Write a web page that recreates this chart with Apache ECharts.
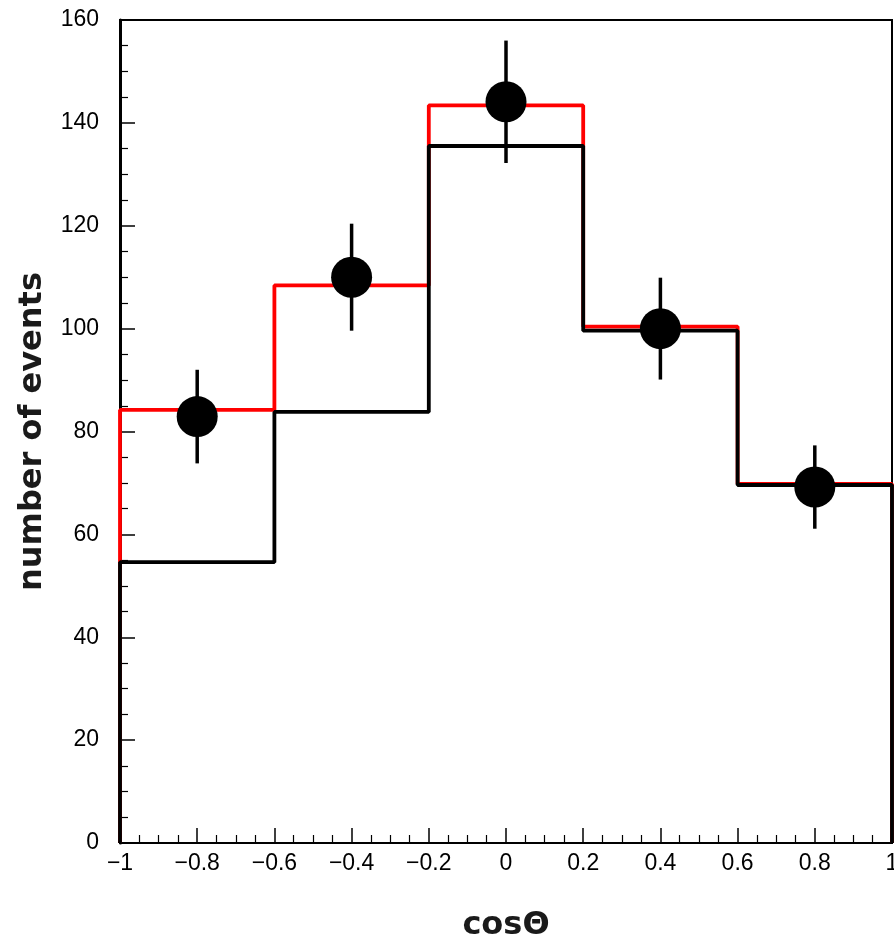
<!DOCTYPE html>
<html>
<head>
<meta charset="utf-8">
<script src="https://cdn.jsdelivr.net/npm/echarts@6/dist/echarts.min.js"></script>
<style>html,body{margin:0;padding:0;background:#fff}#c{width:894px;height:939px}</style>
</head>
<body>
<div id="c"></div>
<script>
var binEdges = [-1, -0.6, -0.2, 0.2, 0.6, 1];
var redHist = [84.2, 108.4, 143.4, 100.4, 69.8];
var blackHist = [54.6, 83.8, 135.5, 99.6, 69.6];
var pointX = [-0.8, -0.4, 0, 0.4, 0.8];
var pointY = [82.9, 110.0, 144.1, 100.0, 69.2];
var pointErr = [9.1, 10.4, 11.9, 9.9, 8.1];
var xTicks = [-1, -0.8, -0.6, -0.4, -0.2, 0, 0.2, 0.4, 0.6, 0.8, 1];
var yTicks = [0, 20, 40, 60, 80, 100, 120, 140, 160];

function histPath(vals) {
  var pts = [[binEdges[0], 0]];
  for (var i = 0; i < vals.length; i++) {
    pts.push([binEdges[i], vals[i]]);
    pts.push([binEdges[i + 1], vals[i]]);
  }
  pts.push([binEdges[binEdges.length - 1], 0]);
  return pts;
}

var errData = pointX.map(function (x, i) { return [x, pointY[i] - pointErr[i], pointY[i] + pointErr[i]]; });
var ptData = pointX.map(function (x, i) { return [x, pointY[i]]; });

var labelFont = "Liberation Sans";
var titleFont = "DejaVu Sans";
var chart = echarts.init(document.getElementById('c'), null, {renderer: 'canvas'});
chart.setOption({
  animation: false,
  backgroundColor: '#fff',
  grid: {left: 120, right: 2, top: 20, bottom: 96, outerBoundsMode: 'none', containLabel: false,
    show: true, borderColor: '#000', borderWidth: 2, backgroundColor: 'transparent'},
  xAxis: {
    type: 'value', min: xTicks[0], max: xTicks[xTicks.length - 1], interval: 0.2,
    name: 'cosΘ', nameLocation: 'middle', nameGap: 67,
    nameTextStyle: {fontFamily: titleFont, fontWeight: 'bold', fontSize: 32, color: '#1a1a1a'},
    axisLine: {show: true, onZero: false, lineStyle: {color: '#000', width: 2}},
    axisTick: {show: true, inside: true, length: 15, lineStyle: {color: '#000', width: 1.5}},
    minorTick: {show: true, splitNumber: 4, length: 8, lineStyle: {color: '#000', width: 1.2}},
    splitLine: {show: false},
    axisLabel: {margin: 9, fontFamily: labelFont, fontSize: 23, color: '#000',
      formatter: function (v) { var s = (Math.round(v * 10) / 10).toString(); return s.replace('-', '\u2212'); }}
  },
  yAxis: {
    type: 'value', min: yTicks[0], max: yTicks[yTicks.length - 1], interval: 20,
    name: 'number of events', nameLocation: 'middle', nameGap: 71, nameRotate: 90,
    nameTextStyle: {fontFamily: titleFont, fontWeight: 'bold', fontSize: 32, color: '#1a1a1a'},
    axisLine: {show: true, onZero: false, lineStyle: {color: '#000', width: 3}},
    axisTick: {show: true, inside: true, length: 15, lineStyle: {color: '#000', width: 1.5}},
    minorTick: {show: true, splitNumber: 4, length: 8, lineStyle: {color: '#000', width: 1.2}},
    splitLine: {show: false},
    axisLabel: {margin: 21, fontFamily: labelFont, fontSize: 23, color: '#000'}
  },
  series: [
    {type: 'line', data: histPath(redHist), symbol: 'none', lineStyle: {color: '#ff0000', width: 3.8}, z: 2, silent: true},
    {type: 'line', data: histPath(blackHist), symbol: 'none', lineStyle: {color: '#000', width: 3.8}, z: 3, silent: true},
    {type: 'custom', data: errData, z: 5, silent: true,
      renderItem: function (params, api) {
        var p1 = api.coord([api.value(0), api.value(1)]);
        var p2 = api.coord([api.value(0), api.value(2)]);
        return {type: 'line', shape: {x1: p1[0], y1: p1[1], x2: p2[0], y2: p2[1]}, style: {stroke: '#000', lineWidth: 3.5}};
      }},
    {type: 'scatter', data: ptData, symbol: 'circle', symbolSize: 41, silent: true,
      itemStyle: {color: '#000', opacity: 1}, z: 6}
  ]
});
</script>
</body>
</html>
